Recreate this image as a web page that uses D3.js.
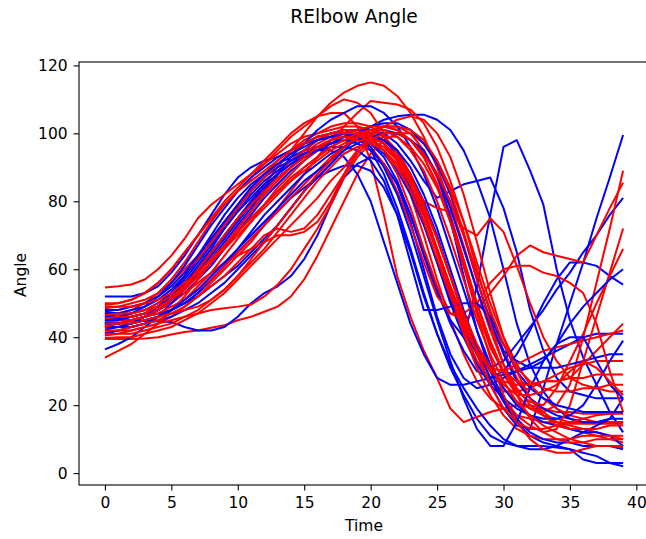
<!DOCTYPE html>
<html><head><meta charset="utf-8">
<script src="https://cdn.jsdelivr.net/npm/d3@7"></script>
<style>body{margin:0;background:#fff}svg text{font-family:"DejaVu Sans",sans-serif;fill:#000}</style>
</head><body><svg id="c" width="646" height="539"></svg>
<script>
const time=[0,1,2,3,4,5,6,7,8,9,10,11,12,13,14,15,16,17,18,19,20,21,22,23,24,25,26,27,28,29,30,31,32,33,34,35,36,37,38,39];
const xTicks=[0,5,10,15,20,25,30,35,40];
const yTicks=[0,20,40,60,80,100,120];
const titleText="RElbow Angle", xLabel="Time", yLabel="Angle";

const blueSeries=[
[52,52,52,53,55,59,64,70,76,82,87,90,92,93,95,97,99,100,101,99,95,88,78,66,53,41,31,23,16,11,9,8,8,8,7.5,7,4,3,3,3],
[45,45,45,46,47,48,50,52,55,58,61,65,69,73,78,83,87,91,95,99,102,104,105,105.5,105.5,104,101,95,86,75,60,44,32,24,19,16,15,15,15,15],
[44,44,45,46,48,51,55,60,65,70,75,79,83,87,90,93,95,97,99,100,101,100,97,92,86,81,83,85,86,87,78,65,48,36,28,24,23,22,22,22],
[47.6,47,47,48,50,53,57,62,67,72,77,81,85,88,91,94,96,98,99,99,97,93,86,76,64,53,45,40,55,76,96,98,89,79,60,45,34,26,18,12],
[44.2,44,45,46,48,50,53,57,61,66,71,76,81,85,89,92,95,97,99,100,100,98,94,88,80,70,58,46,35,26,19,14,13,25,38,50,62,75,87,99.5],
[43.2,43,44,46,49,53,58,64,70,76,81,85,88,91,93,95,96,97,98,98,97,94,89,82,73,62,51,42,35,31,33,38,43,48,54,59,65,70,76,81],
[46.6,46,46,47,49,52,56,61,66,72,77,82,86,89,92,94,96,97,98,97,95,91,85,76,65,54,44,36,30,28,30,35,42,50,57,62,62,61,58,55.5],
[45.7,45.5,45,44.8,44.6,44.5,43,42,42,43,46,50,53,55,58,63,70,79,87,91,93,91,85,74,60,46,35,28,25,26,28,30,32,34,36,38,40,41,41,41],
[36.4,38,40,43,46,50,54,59,64,69,74,79,84,88,92,95,98,100,101,101,100,97,92,84,74,62,50,40,32,26,22,19,17,16,16,17,20,26,33,39],
[44,44,45,46,48,51,55,59,63,68,73,78,83,88,93,97,101,104,106,108,108,106,102,96,88,78,66,54,42,32,25,20,17,15,14,13,12,12,11,8],
[42.2,43,43,44,45,46,48,50,53,56,60,64,68,73,78,83,88,92,96,99,102,103,103,101,97,91,82,70,57,45,35,27,22,19,17,16,15,15,16,16],
[47,47,48,49,51,54,58,63,68,73,78,83,87,90,92,94,95,95,93,88,80,68,56,44,35,28,26,26,27,28,29,30,31,31,31,32,33,34,35,35],
[43,43,44,45,46,48,50,53,57,61,65,69,73,77,81,84,87,89,90.5,90.5,89,84,76,65,52,41,32,25,19,14,10,8,7,7,8,10,12,14,16,22],
[44,44,44,45,46,48,50,53,57,61,66,71,76,80,84,88,91,94,96,98,99,98,95,90,82,72,60,48,37,28,21,15,11,9,8,7,6,5,3,2],
[41,42,43,44,46,48,51,54,58,62,66,70,74,78,82,86,89,92,95,97,99,100,100,98,94,88,78,66,54,43,36,33,31,33,38,44,49,53,57,60],
[45,45,46,47,49,52,56,60,65,70,75,80,84,88,91,93,95,96,96,95,92,86,76,62,48,48,49,50,50,46,38,30,25,22,20,19,18,18,18,18],
[46,46,47,49,52,56,61,67,73,78,83,87,90,93,95,97,98,99,100,101,101,101,100,98,95,88,75,58,42,30,22,16,12,10,9,9,8,8,8,7],
[48,48,49,50,52,55,59,64,69,74,79,84,88,91,94,96,98,99,100,99,96,90,82,71,58,45,33,22,13,8,8,15,25,33,38,40,40,33,26,22]
];

const redSeries=[
[54.6,55,55.5,57,60,64,69,75,79,82,85,88,92,96,100,103,105,106,106,102,92,76,58,46,36,28,19,15,16.5,18,19,20,20,19,18,18,17.5,17.5,18,18],
[44,44,45,46,48,51,55,60,65,70,75,80,85,90,95,100,105,109,112,114,115,114,111,106,99,90,79,67,54,42,32,25,20,17,15,14,13,12,11,10],
[47.2,47,48,50,53,57,62,68,74,79,83,87,91,95,99,102,105,108,110,109,106,100,92,82,70,57,45,35,27,22,19,17,16,15,15,14.5,14.5,14.5,14.5,14.5],
[41.4,42,42,43,44,46,49,52,56,60,64,68,73,78,83,88,93,98,102,106,109.5,109,108.5,107,103,96,86,74,60,47,36,28,22,18,15,13,12,11,10,9],
[39.5,39.5,39.5,39.6,40,40.8,41.5,42,42.8,43.5,45,46,47.5,49,52,57,64,72,80,88,94,98,100,100,97,92,84,74,62,50,40,32,26,22,19,17,16,15,15,15],
[43.7,44,45,46,48,50,53,56,59,62,64,66,68,70,70,71,74,80,88,95,100,102,102,100,95,87,76,63,50,38,29,23,19,17,16,15,15,15,15,15],
[50,50,51,53,56,60,65,70,75,80,84,88,91,94,97,99,100,101,102,102,101,99,95,88,78,66,53,42,33,27,24,24,25,27,29,31,32,33,33,33],
[49,49,50,51,53,56,60,64,69,74,79,84,88,92,95,98,100,102,103,103,102,99,94,87,77,66,55,45,37,30,25,21,19,18,20,26,40,56,72,89],
[45,45,46,47,49,52,56,60,65,70,75,80,84,88,92,95,98,100,101,101,99,95,88,78,66,55,47,45,48,53,58,64,67,65,64,63,62,70,78,85.5],
[42.8,43,43,44,46,48,51,55,59,64,69,74,79,84,88,92,95,98,100,101,100,97,92,86,80,78,77,72,70,75,71,61,50,40,33,28,26,25,24,24],
[34,36,38,41,44,48,52,57,62,67,72,77,82,86,90,94,97,99,101,101,100,97,92,85,76,66,55,45,36,28,22,17,14,12,13,20,33,46,59,72],
[40.5,41,42,43,44,45,46,47,48,48.5,49,49.6,52,55.5,60,66,72,79,87,93,97,99,99,96,91,84,74,62,50,39,30,24,21,20,25,33,41,50,58,66],
[48,48,49,50,52,55,59,63,68,73,78,83,87,91,94,97,99,100,100,99,96,91,83,73,62,52,47,47,50,56,60,61,61,59,58,56,53,44,30,18],
[44.7,45,45,46,47,49,51,54,57,61,65,69,73,77,81,85,89,93,96,99,101,102,101,98,93,85,74,61,48,37,30,27,26,27,27,28,32,36,40,44],
[46,46,47,48,49,51,54,58,62,67,72,77,82,86,90,93,96,98,99,99,98,95,90,83,74,63,52,43,36,31,30,32,34,36,37,38,39,40,41,42],
[41,41,41,42,43,44,46,48,51,54,58,62,66,71,76,81,86,90,94,96,97,95,91,85,76,65,53,41,31,23,17,13,11,10,10,10,11,11,11,11],
[43,44,45,46,48,51,55,60,65,70,75,79,83,87,90,93,96,98,100,101,102,102,101,98,93,85,74,61,47,34,23,15,10,7,6,6,7,8,8,8],
[46.5,47,47,48,50,52,55,59,63,67,71,75,79,83,87,90,93,96,98,100,101,101,99,95,89,80,69,57,45,35,27,21,17,14,12,10,9,8,8,7.5],
[48.5,49,49,50,51,53,56,59,63,67,71,75,79,83,86,89,92,95,97,98,98,96,92,85,76,65,54,44,36,30,27,26,26,27,27,28,28,29,29,29],
[42,42,43,44,45,47,49,52,55,58,62,66,70,72,71,72,76,82,88,94,98,100,100,98,94,88,80,70,59,48,38,31,27,25,24,24,25,25,26,26],
[45.5,46,46,47,49,51,54,58,62,66,70,74,78,82,86,90,93,96,98,99,99,97,93,87,79,69,58,47,38,31,26,23,23,24,26,30,33,31,27,23],
[49.5,50,51,53,56,60,65,70,75,79,83,86,89,92,95,97,99,100,100,100,99,97,93,87,79,69,58,46,35,26,19,15,13,13,14,15,16,17,17.5,17.5],
[44,44,44,45,46,47,48,49,51,54,58,63,68,73,78,83,88,92,96,99,101,102,102,101,98,92,83,71,57,44,32,23,16,12,10,9,9,10,10,10],
[39.8,40,40,41,42,43,45,47,50,53,57,61,65,69,73,77,81,86,90,95,99,102,104,105,104,100,93,82,68,53,40,30,22,17,14,13,13,13,14,14]
];

const L=79,T=62,R=649,B=485;
const svg=d3.select("#c");
const x=d3.scaleLinear().domain([-1.95,40.95]).range([L,R]);
const y=d3.scaleLinear().domain([-3.5,121]).range([B,T]);

svg.append("defs").append("clipPath").attr("id","clip").append("rect")
  .attr("x",L).attr("y",T).attr("width",R-L).attr("height",B-T);

const line=d3.line().x((d,i)=>x(time[i])).y(d=>y(d));
const g=svg.append("g").attr("clip-path","url(#clip)");
const n=Math.max(blueSeries.length,redSeries.length);
for(let i=0;i<n;i++){
  if(i<blueSeries.length) g.append("path").datum(blueSeries[i]).attr("d",line).attr("fill","none").attr("stroke","#0000ff").attr("stroke-width",2).attr("stroke-linejoin","round");
  if(i<redSeries.length) g.append("path").datum(redSeries[i]).attr("d",line).attr("fill","none").attr("stroke","#ff0000").attr("stroke-width",2).attr("stroke-linejoin","round");
}

const xa=svg.append("g").attr("transform",`translate(0,${B})`)
  .call(d3.axisBottom(x).tickValues(xTicks).tickFormat(d3.format("d")).tickSize(5.4).tickPadding(6.5));
const ya=svg.append("g").attr("transform",`translate(${L},0)`)
  .call(d3.axisLeft(y).tickValues(yTicks).tickFormat(d3.format("d")).tickSize(5.4).tickPadding(6));
[xa,ya].forEach(a=>{a.select(".domain").remove();a.selectAll("line").attr("stroke","#000").attr("stroke-width",1.1);
  a.selectAll("text").attr("font-size","15.5px").attr("font-family","DejaVu Sans").attr("fill","#000");});

svg.append("rect").attr("x",L).attr("y",T).attr("width",R-L).attr("height",B-T)
  .attr("fill","none").attr("stroke","#000").attr("stroke-width",1.1);

svg.append("text").attr("x",354).attr("y",23).attr("text-anchor","middle").attr("font-size","18.7px").text(titleText);
svg.append("text").attr("x",(L+R)/2).attr("y",531).attr("text-anchor","middle").attr("font-size","15.5px").text(xLabel);
svg.append("text").attr("transform","translate(26,275) rotate(-90)").attr("text-anchor","middle").attr("font-size","15.5px").text(yLabel);
</script></body></html>
